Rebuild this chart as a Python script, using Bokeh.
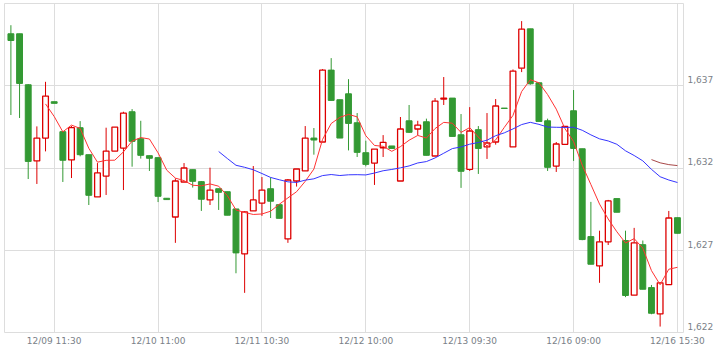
import numpy as np
from bokeh.plotting import figure
from bokeh.models import (ColumnDataSource, Range1d, FixedTicker, LinearAxis,
                          NumeralTickFormatter)
from bokeh.embed import file_html
from bokeh.resources import INLINE

# ---------------- data ----------------
days = ["12/09", "12/10", "12/11", "12/12", "12/13", "12/16"]
session_times = ["09:00", "09:30", "10:00", "10:30", "11:00", "11:30", "12:30",
                 "13:00", "13:30", "14:00", "14:30", "15:00", "15:30"]
stamps = [f"{d} {t}" for d in days for t in session_times]

opens = [1640.16, 1640.16, 1637.06, 1632.43, 1633.82, 1636.03, 1634.21, 1632.49, 1634.45, 1632.81,
         1630.24, 1631.51, 1633.03, 1633.21, 1635.42, 1633.78, 1632.75, 1632.63, 1630.16, 1629.02,
         1631.15, 1631.90, 1631.17, 1630.06, 1630.74, 1630.56, 1629.51, 1626.78, 1629.39, 1629.87,
         1630.74, 1629.77, 1627.69, 1631.21, 1631.82, 1633.82, 1633.58, 1637.95, 1636.15, 1636.51,
         1634.75, 1632.93, 1632.30, 1633.23, 1633.34, 1631.21, 1634.87, 1634.37, 1634.81, 1632.73,
         1636.19, 1636.25, 1634.02, 1631.92, 1634.33, 1633.28, 1633.58, 1635.64, 1633.28, 1638.07,
         1640.46, 1637.18, 1634.87, 1632.12, 1633.44, 1635.48, 1633.17, 1627.83, 1626.05, 1627.51,
         1630.14, 1627.59, 1624.27, 1627.34, 1624.73, 1623.13, 1624.91, 1628.98]
highs = [1640.68, 1640.16, 1637.10, 1634.53, 1637.24, 1636.03, 1634.25, 1634.55, 1634.85, 1632.81,
         1632.30, 1634.45, 1634.49, 1635.42, 1635.58, 1634.87, 1632.75, 1632.63, 1630.16, 1631.37,
         1632.30, 1631.90, 1631.21, 1632.02, 1630.74, 1630.56, 1629.51, 1629.37, 1632.12, 1631.45,
         1631.43, 1629.77, 1631.33, 1631.94, 1634.55, 1634.43, 1638.01, 1638.68, 1636.15, 1637.40,
         1635.34, 1633.66, 1633.15, 1634.00, 1633.34, 1635.10, 1635.83, 1634.87, 1635.00, 1636.25,
         1637.53, 1636.25, 1635.28, 1635.70, 1634.55, 1635.34, 1636.19, 1635.64, 1637.99, 1640.93,
         1640.46, 1637.18, 1635.00, 1633.58, 1634.53, 1636.74, 1633.17, 1629.94, 1628.19, 1630.06,
         1630.14, 1628.19, 1628.36, 1627.59, 1624.89, 1625.02, 1629.39, 1628.98]
lows = [1635.22, 1635.04, 1631.33, 1631.03, 1633.01, 1635.93, 1631.15, 1631.39, 1632.71, 1629.75,
        1630.24, 1630.36, 1633.03, 1630.66, 1632.08, 1632.57, 1631.82, 1629.93, 1630.08, 1627.45,
        1631.15, 1630.81, 1629.39, 1629.75, 1629.45, 1629.13, 1625.60, 1624.41, 1629.39, 1629.09,
        1628.96, 1628.94, 1627.45, 1630.87, 1631.82, 1632.81, 1633.58, 1636.11, 1633.82, 1633.07,
        1632.67, 1632.10, 1630.97, 1632.67, 1633.19, 1631.21, 1634.13, 1634.00, 1632.77, 1632.73,
        1635.83, 1633.92, 1630.79, 1631.82, 1631.64, 1632.55, 1633.42, 1635.62, 1633.28, 1637.83,
        1637.06, 1634.83, 1631.82, 1631.76, 1633.44, 1632.43, 1627.61, 1626.15, 1625.02, 1627.32,
        1629.31, 1624.15, 1624.27, 1624.63, 1623.11, 1622.36, 1624.91, 1628.03]
closes = [1639.75, 1637.14, 1632.40, 1633.82, 1636.37, 1635.93, 1632.47, 1634.45, 1632.81, 1630.34,
          1631.70, 1633.03, 1634.49, 1635.34, 1633.62, 1632.77, 1632.59, 1630.28, 1630.08, 1631.21,
          1632.00, 1631.19, 1630.10, 1630.66, 1630.52, 1629.13, 1626.84, 1629.33, 1630.06, 1630.66,
          1629.98, 1628.94, 1631.27, 1631.94, 1633.82, 1633.70, 1637.95, 1636.11, 1633.82, 1634.71,
          1632.95, 1632.22, 1633.15, 1633.56, 1633.19, 1634.37, 1634.17, 1634.61, 1632.77, 1636.07,
          1636.25, 1633.92, 1631.80, 1634.25, 1633.19, 1633.52, 1635.77, 1635.62, 1637.89, 1640.44,
          1637.12, 1634.83, 1632.04, 1633.46, 1634.53, 1633.19, 1627.65, 1626.15, 1627.51, 1630.00,
          1629.31, 1624.25, 1627.45, 1624.63, 1623.17, 1625.02, 1628.96, 1628.03]

ma_periods = [5, 25, 75]
y_ticks = [1622, 1627, 1632, 1637]
first_tick = 5
tick_step = 12

# ---------------- derived ----------------
n = len(closes)
idx = np.arange(n)
o = np.array(opens); c = np.array(closes)
up = c >= o
tick_idx = list(range(first_tick, n, tick_step))

def moving_avg(vals, k):
    arr = np.array(vals)
    out = np.convolve(arr, np.ones(k) / k, mode="valid")
    return idx[k - 1:], out

GREEN = "#339933"
RED = "#dd0000"
GRID = "#dddddd"
LABEL = "#7a7f88"
FONT = "DejaVu Sans"

p = figure(frame_width=679, frame_height=329, output_backend="svg", toolbar_location=None,
           x_range=Range1d(-0.74, 77.7), y_range=Range1d(1622, 1642),
           y_axis_location="right", min_border_left=4, min_border_top=3,
           min_border_right=42, min_border_bottom=20,
           background_fill_color="white", border_fill_color="white")
p.outline_line_color = GRID
p.outline_line_width = 1

# grids
p.xgrid.ticker = FixedTicker(ticks=tick_idx)
p.ygrid.ticker = FixedTicker(ticks=y_ticks)
p.xgrid.grid_line_color = GRID
p.ygrid.grid_line_color = GRID

# x axis
xa = p.xaxis[0]
xa.ticker = FixedTicker(ticks=tick_idx)
xa.major_label_overrides = {i: stamps[i] for i in tick_idx}
xa.axis_line_color = None
xa.major_tick_line_color = None
xa.minor_tick_line_color = None
xa.major_tick_out = 0
xa.major_tick_in = 0
xa.major_label_standoff = 3
xa.major_label_text_font = FONT
xa.major_label_text_font_size = "9px"
xa.major_label_text_color = LABEL

# hidden default y axis; labels on a slightly shifted range
p.yaxis[0].visible = False
shift = 0.376
p.extra_y_ranges = {"lab": Range1d(1622 - shift, 1642 - shift)}
ya = LinearAxis(y_range_name="lab", ticker=FixedTicker(ticks=y_ticks),
                formatter=NumeralTickFormatter(format="0,0"))
ya.axis_line_color = None
ya.major_tick_line_color = None
ya.minor_tick_line_color = None
ya.major_tick_out = 0
ya.major_tick_in = 0
ya.major_label_standoff = 4
ya.major_label_text_font = FONT
ya.major_label_text_font_size = "9px"
ya.major_label_text_color = LABEL
p.add_layout(ya, "right")

# candles
src_up = ColumnDataSource(dict(x=idx[up], o=o[up], c=c[up],
                               h=np.array(highs)[up], l=np.array(lows)[up]))
src_dn = ColumnDataSource(dict(x=idx[~up], o=o[~up], c=c[~up],
                               h=np.array(highs)[~up], l=np.array(lows)[~up]))

p.segment(x0="x", y0="h", x1="x", y1="l", source=src_dn, line_color=GREEN, line_width=1)
p.vbar(x="x", top="o", bottom="c", width=0.68, source=src_dn,
       fill_color=GREEN, line_color=GREEN, line_width=1)

p.segment(x0="x", y0="h", x1="x", y1="l", source=src_up, line_color=RED, line_width=1)
p.vbar(x="x", top="c", bottom="o", width=0.66, source=src_up,
       fill_color="white", line_color=RED, line_width=1.3)

# moving averages
ma_colors = ["#ff3333", "#3535ff", "#a84848"]
for k, col in zip(ma_periods, ma_colors):
    mx, my = moving_avg(closes, k)
    p.line(mx, my, line_color=col, line_width=1)

open("out.html", "w").write(file_html(p, INLINE))
